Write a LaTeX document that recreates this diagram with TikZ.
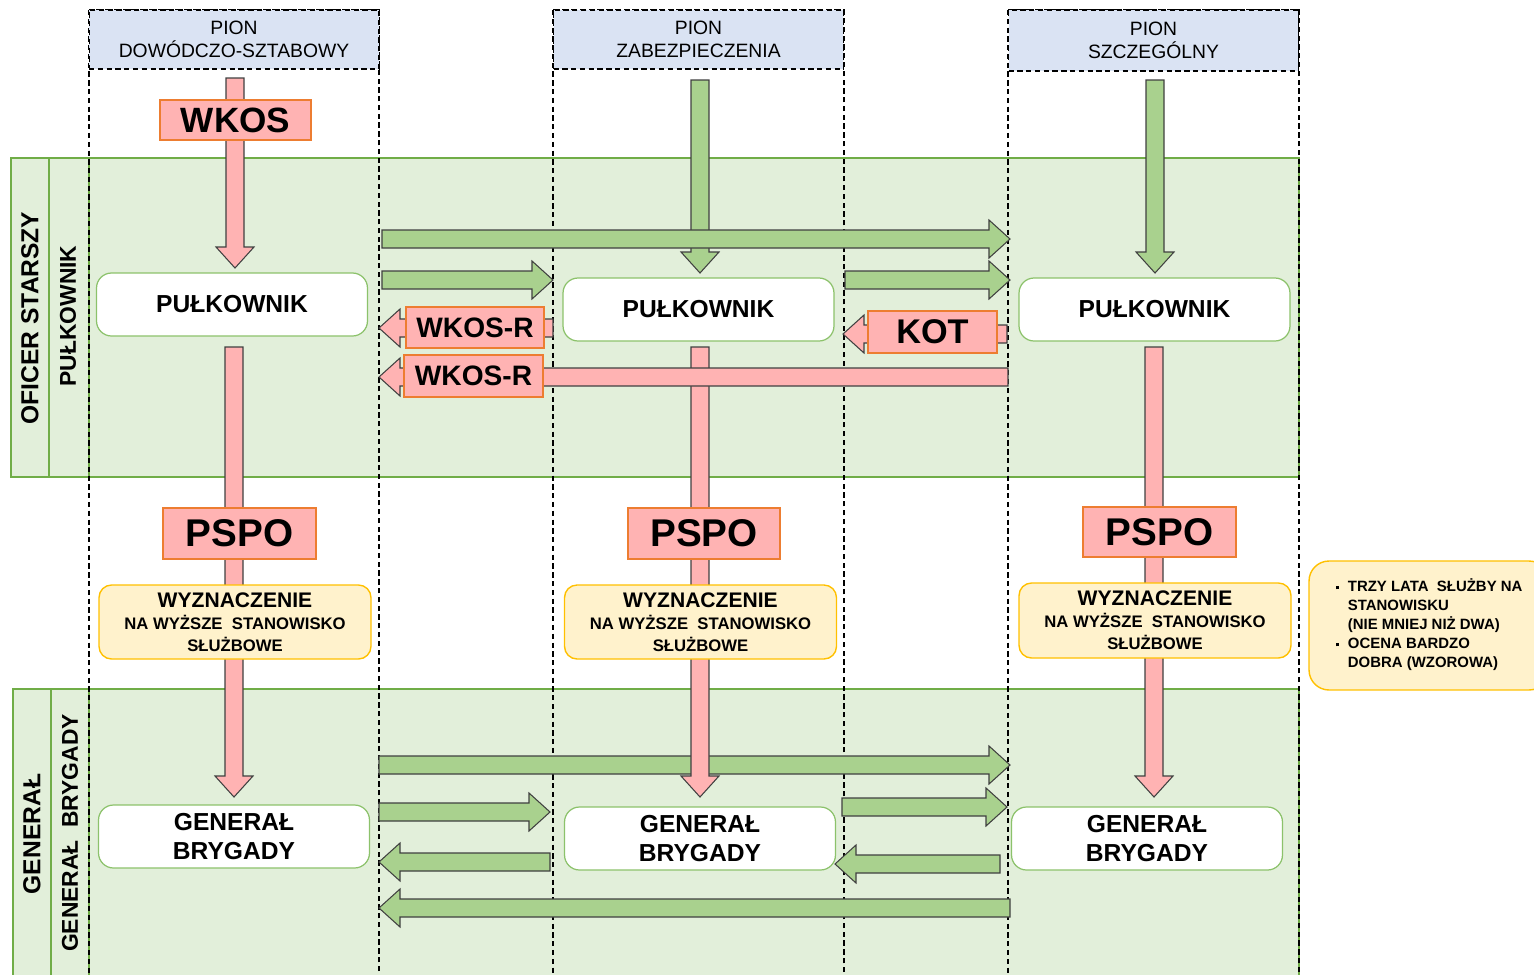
\documentclass[tikz,border=0pt]{standalone}
\usepackage{fontspec}
\setmainfont{Liberation Sans}
\usetikzlibrary{calc}
\definecolor{bandfill}{HTML}{E2EFDA}
\definecolor{bandline}{HTML}{70AD47}
\definecolor{headfill}{HTML}{DAE3F3}
\definecolor{boxline}{HTML}{8CC26B}
\definecolor{pinkfill}{HTML}{FFB3B3}
\definecolor{tagline}{HTML}{ED7D31}
\definecolor{greenfill}{HTML}{A9D18E}
\definecolor{arrowline}{HTML}{404040}
\definecolor{notefill}{HTML}{FFF2CC}
\definecolor{noteline}{HTML}{FFC000}
\tikzset{
  band/.style={fill=bandfill, draw=bandline, line width=0.6pt},
  column/.style={dash pattern=on 3pt off 2pt, line width=0.6pt},
  header/.style={column, draw, fill=headfill, minimum width=5.8cm, minimum height=1.18cm,
    inner sep=0pt, align=center, font=\fontsize{11}{13}\selectfont},
  rank/.style={draw=boxline, line width=0.7pt, fill=white, rounded corners=0.3cm,
    minimum width=5.42cm, minimum height=1.26cm, inner sep=0pt, align=center,
    font=\fontsize{14}{17}\selectfont\bfseries},
  appoint/.style={draw=noteline, line width=0.8pt, fill=notefill, rounded corners=0.25cm,
    minimum width=5.44cm, minimum height=1.48cm, inner sep=0pt, align=center,
    font=\fontsize{9.5}{12.5}\selectfont\bfseries},
  tag/.style={fill=pinkfill, draw=tagline, line width=0.8pt, inner sep=0pt, font=\bfseries},
  pinkarrow/.style={fill=pinkfill, draw=arrowline, line width=0.6pt},
  greenarrow/.style={fill=greenfill, draw=arrowline, line width=0.6pt},
  sidelabel/.style={rotate=90, font=\fontsize{14}{17}\selectfont\bfseries}
}
% block arrow: [style]{start}{tip}
\newcommand{\blockarrow}[3][]{%
  \path (#2) coordinate (ba-s) (#3) coordinate (ba-e) ($(#3)!0.42cm!(#2)$) coordinate (ba-n);
  \draw[#1] ($(ba-s)!0.18cm!90:(ba-e)$) -- ($(ba-n)!0.18cm!-90:(ba-s)$)
    -- ($(ba-n)!0.38cm!-90:(ba-s)$) -- (ba-e) -- ($(ba-n)!0.38cm!90:(ba-s)$)
    -- ($(ba-n)!0.18cm!90:(ba-s)$) -- ($(ba-s)!0.18cm!-90:(ba-e)$) -- cycle;}
\newcommand{\appointtext}{{\fontsize{12}{14}\selectfont WYZNACZENIE}\\NA WYŻSZE\ \ STANOWISKO\\SŁUŻBOWE}
\newcommand{\sqbullet}{\rule[0.25ex]{0.45ex}{0.45ex}}
\begin{document}
\begin{tikzpicture}[x=0.02cm, y=-0.02cm]
\clip (0,0) rectangle (1534,974);

% rank bands
\draw[band] (11,158) rectangle (1299,477);
\draw[bandline, line width=0.6pt] (49,158) -- (49,477) (89,158) -- (89,477);
\draw[band] (13,689) rectangle (1299,1000);
\draw[bandline, line width=0.6pt] (51,689) -- (51,1000) (89,689) -- (89,1000);
\node[sidelabel] (oficer) at (30,318) {OFICER STARSZY};
\node[sidelabel, font=\fontsize{13}{15}\selectfont\bfseries] (pulklab) at (68,316) {PUŁKOWNIK};
\node[sidelabel] (genlab) at (32,834) {GENERAŁ};
\node[sidelabel, font=\fontsize{13}{15}\selectfont\bfseries] (genbrlab) at (70,833) {GENERAŁ\ \ BRYGADY};

% columns
\draw[column] (89,10) rectangle (379,1000);
\draw[column] (553,10) rectangle (844,1000);
\draw[column] (1008,10) rectangle (1299,1000);
\node[header] (head1) at (234,39.5) {PION\\DOWÓDCZO-SZTABOWY};
\node[header] (head2) at (698.5,39.5) {PION\\ZABEZPIECZENIA};
\node[header, minimum height=1.22cm] (head3) at (1153.5,40.5) {PION\\SZCZEGÓLNY};

% arrow ends
\coordinate (g1a) at (700,80);   \coordinate (g1b) at (700,273);
\coordinate (g2a) at (1155,80);  \coordinate (g2b) at (1155,273);
\coordinate (h1a) at (382,239);  \coordinate (h1b) at (1010,239);
\coordinate (h2a) at (382,280);  \coordinate (h2b) at (553,280);
\coordinate (h3a) at (845,280);  \coordinate (h3b) at (1010,280);
\coordinate (k1a) at (379,765);  \coordinate (k1b) at (1010,765);
\coordinate (k2a) at (379,812);  \coordinate (k2b) at (550,812);
\coordinate (k3a) at (842,807);  \coordinate (k3b) at (1007,807);
\coordinate (k4a) at (550,862);  \coordinate (k4b) at (379,862);
\coordinate (k5a) at (1000,864); \coordinate (k5b) at (835,864);
\coordinate (k6a) at (1010,908); \coordinate (k6b) at (379,908);
\coordinate (r1a) at (235,78);   \coordinate (r1b) at (235,268);
\coordinate (r2a) at (234,347);  \coordinate (r2b) at (234,797);
\coordinate (r3a) at (700,347);  \coordinate (r3b) at (700,797);
\coordinate (r4a) at (1154,347); \coordinate (r4b) at (1154,797);
\coordinate (l1a) at (553,328);  \coordinate (l1b) at (379,328);
\coordinate (l2a) at (1008,377); \coordinate (l2b) at (379,377);
\coordinate (l3a) at (1007,334); \coordinate (l3b) at (843,334);

% green arrows
\blockarrow[greenarrow]{g1a}{g1b}
\blockarrow[greenarrow]{g2a}{g2b}
\blockarrow[greenarrow]{h1a}{h1b}
\blockarrow[greenarrow]{h2a}{h2b}
\blockarrow[greenarrow]{h3a}{h3b}
\blockarrow[greenarrow]{k1a}{k1b}
\blockarrow[greenarrow]{k2a}{k2b}
\blockarrow[greenarrow]{k3a}{k3b}
\blockarrow[greenarrow]{k4a}{k4b}
\blockarrow[greenarrow]{k5a}{k5b}
\blockarrow[greenarrow]{k6a}{k6b}
% pink arrows
\blockarrow[pinkarrow]{r1a}{r1b}
\blockarrow[pinkarrow]{r2a}{r2b}
\blockarrow[pinkarrow]{r3a}{r3b}
\blockarrow[pinkarrow]{r4a}{r4b}
\blockarrow[pinkarrow]{l1a}{l1b}
\blockarrow[pinkarrow]{l2a}{l2b}
\blockarrow[pinkarrow]{l3a}{l3b}

% ranks
\node[rank] (pulk1) at (232,304.5) {PUŁKOWNIK};
\node[rank] (pulk2) at (698.5,309.5) {PUŁKOWNIK};
\node[rank] (pulk3) at (1154.5,309.5) {PUŁKOWNIK};
\node[rank] (gen1) at (234,836.5) {GENERAŁ\\BRYGADY};
\node[rank] (gen2) at (700,838.5) {GENERAŁ\\BRYGADY};
\node[rank] (gen3) at (1147,838.5) {GENERAŁ\\BRYGADY};

% tags on arrows
\node[tag, minimum width=3.02cm, minimum height=0.8cm, font=\fontsize{20}{22}\selectfont\bfseries] (wkos) at (235.5,120) {WKOS};
\node[tag, minimum width=2.76cm, minimum height=0.82cm, font=\fontsize{16}{18}\selectfont\bfseries] (wkosr1) at (475,327.5) {WKOS-R};
\node[tag, minimum width=2.78cm, minimum height=0.84cm, font=\fontsize{16}{18}\selectfont\bfseries] (wkosr2) at (473.5,376) {WKOS-R};
\node[tag, minimum width=2.58cm, minimum height=0.84cm, font=\fontsize{19.5}{21}\selectfont\bfseries] (kot) at (932.5,332) {KOT};
\node[tag, minimum width=3.06cm, minimum height=1.02cm, font=\fontsize{22}{24}\selectfont\bfseries] (pspo1) at (239.5,533.5) {PSPO};
\node[tag, minimum width=3.04cm, minimum height=1.02cm, font=\fontsize{22}{24}\selectfont\bfseries] (pspo2) at (704,533.5) {PSPO};
\node[tag, minimum width=3.06cm, minimum height=1cm, font=\fontsize{22}{24}\selectfont\bfseries] (pspo3) at (1159.5,532) {PSPO};

% appointment
\node[appoint] (wyz1) at (235,622) {\appointtext};
\node[appoint] (wyz2) at (700.5,622) {\appointtext};
\node[appoint, minimum height=1.5cm] (wyz3) at (1155,620.5) {\appointtext};

% conditions
\node[appoint, minimum width=4.8cm, minimum height=2.58cm, rounded corners=0.4cm,
  font=\fontsize{8.5}{10.8}\selectfont\bfseries] (warunki) at (1429,625.5)
  {\begin{tabular}{@{}l@{\hspace{5pt}}l@{}}
   \sqbullet & TRZY LATA\ \ SŁUŻBY NA\\
             & STANOWISKU\\
             & (NIE MNIEJ NIŻ DWA)\\
   \sqbullet & OCENA BARDZO\\
             & DOBRA (WZOROWA)
   \end{tabular}};
\end{tikzpicture}
\end{document}
